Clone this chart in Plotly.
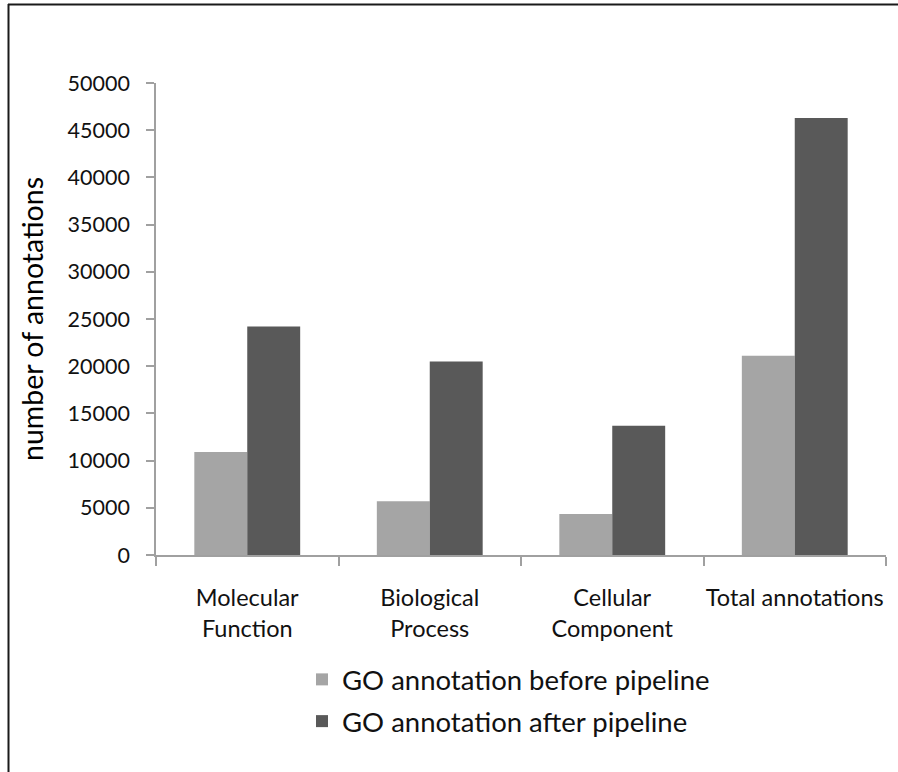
import plotly.graph_objects as go

categories = ["Molecular<br>Function", "Biological<br>Process", "Cellular<br>Component", "Total annotations"]
before_pipeline = [10900, 5700, 4350, 21100]
after_pipeline = [24200, 20500, 13700, 46300]
series_names = ["GO annotation before pipeline", "GO annotation after pipeline"]
y_ticks = list(range(0, 50001, 5000))
y_tick_text = [str(v) for v in y_ticks]

W, H = 898, 772
L, R, T, B = 156, 12, 83, 217
pw, ph = W - L - R, H - T - B

FONT = "Lato, Carlito, Calibri, sans-serif"

fig = go.Figure()
fig.add_trace(go.Bar(x=categories, y=before_pipeline, name=series_names[0],
                     marker=dict(color="#a5a5a5", line=dict(width=0)),
                     legendgroup="a"))
fig.add_trace(go.Bar(x=categories, y=after_pipeline, name=series_names[1],
                     marker=dict(color="#595959", line=dict(width=0)),
                     legendgroup="b"))

# frame lines along the top and left edge of the figure
px2x = lambda px: (px - L) / pw
py2y = lambda py: (H - B - py) / ph
fig.add_shape(type="line", xref="paper", yref="paper",
              x0=px2x(8), x1=px2x(W + 2), y0=py2y(4.5), y1=py2y(4.5),
              line=dict(color="#1a1a1a", width=2))
fig.add_shape(type="line", xref="paper", yref="paper",
              x0=px2x(8.5), x1=px2x(8.5), y0=py2y(4), y1=py2y(H + 2),
              line=dict(color="#1a1a1a", width=2))

fig.update_layout(
    width=W, height=H,
    margin=dict(l=L, r=R, t=T, b=B, autoexpand=False),
    paper_bgcolor="white", plot_bgcolor="white",
    barmode="group", bargap=0.42, bargroupgap=0,
    font=dict(family=FONT, color="#111111"),
    showlegend=True,
    legend=dict(x=px2x(302), y=py2y(655), xanchor="left", yanchor="top",
                xref="paper", yref="paper",
                orientation="v", traceorder="grouped", tracegroupgap=3,
                font=dict(size=27.5, family=FONT, color="#111111"),
                bgcolor="rgba(0,0,0,0)"),
    xaxis=dict(type="category", tickson="boundaries", ticks="outside",
               ticklen=9, tickcolor="#a0a0a0", tickwidth=1.5,
               showline=True, linecolor="#a0a0a0", linewidth=1.5,
               showgrid=False, zeroline=False, ticklabelstandoff=21,
               tickangle=0, automargin=False,
               tickfont=dict(size=23.5, family=FONT, color="#111111")),
    yaxis=dict(range=[0, 50000], tickvals=y_ticks, ticktext=y_tick_text,
               ticks="outside", ticklen=8, tickcolor="#a0a0a0", tickwidth=1.5,
               showline=True, linecolor="#a0a0a0", linewidth=1.5,
               showgrid=False, zeroline=False, ticklabelstandoff=12,
               automargin=False,
               tickfont=dict(size=21.5, family=FONT, color="#111111"),
               title=dict(text="number of annotations", standoff=16,
                          font=dict(size=28.5, family=FONT, color="#000000"))),
)

fig.write_html("out.html")
